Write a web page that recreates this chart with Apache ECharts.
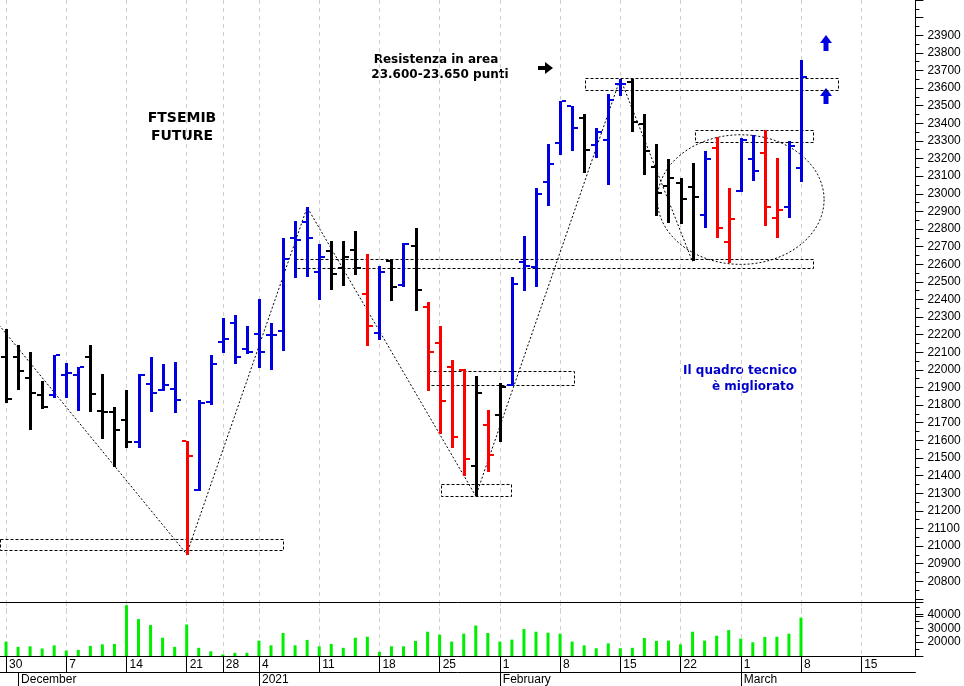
<!DOCTYPE html>
<html><head><meta charset="utf-8">
<script src="https://cdn.jsdelivr.net/npm/echarts@6/dist/echarts.min.js"></script>
<style>html,body{margin:0;padding:0;background:#fff}#c{width:964px;height:686px}</style>
</head><body><div id="c"></div>
<script>
// ---- trading days (category axis) ----
const dates = [
 '2020-11-30','2020-12-01','2020-12-02','2020-12-03','2020-12-04',
 '2020-12-07','2020-12-08','2020-12-09','2020-12-10','2020-12-11',
 '2020-12-14','2020-12-15','2020-12-16','2020-12-17','2020-12-18',
 '2020-12-21','2020-12-22','2020-12-23','2020-12-28','2020-12-29','2020-12-30',
 '2021-01-04','2021-01-05','2021-01-06','2021-01-07','2021-01-08',
 '2021-01-11','2021-01-12','2021-01-13','2021-01-14','2021-01-15',
 '2021-01-18','2021-01-19','2021-01-20','2021-01-21','2021-01-22',
 '2021-01-25','2021-01-26','2021-01-27','2021-01-28','2021-01-29',
 '2021-02-01','2021-02-02','2021-02-03','2021-02-04','2021-02-05',
 '2021-02-08','2021-02-09','2021-02-10','2021-02-11','2021-02-12',
 '2021-02-15','2021-02-16','2021-02-17','2021-02-18','2021-02-19',
 '2021-02-22','2021-02-23','2021-02-24','2021-02-25','2021-02-26',
 '2021-03-01','2021-03-02','2021-03-03','2021-03-04','2021-03-05',
 '2021-03-08','2021-03-09','2021-03-10','2021-03-11','2021-03-12',
 '2021-03-15','2021-03-16','2021-03-17','2021-03-18','2021-03-19'
];
const weekStartDates = ['2020-11-30','2020-12-07','2020-12-14','2020-12-21','2020-12-28','2021-01-04','2021-01-11','2021-01-18','2021-01-25','2021-02-01','2021-02-08','2021-02-15','2021-02-22','2021-03-01','2021-03-08','2021-03-15'];
const weekLabels = ['30','7','14','21','28','4','11','18','25','1','8','15','22','1','8','15'];
const monthStartDates = ['2020-12-01','2021-01-04','2021-02-01','2021-03-01'];
const monthLabels = ['December','2021','February','March'];

// ---- OHLC (Nov 30 .. Mar 8) ----
const open = [22075,22071,21954,21858,21858, 21969,21969,22075,21766,21762, 21714,21590,21918,21886,21892,
 21596,21320,21819,22158,22266,22121, 22201,22196,22219,22751,22840, 22557,22675,22578,22679,22429,
 22210,22619,22481,22701,22356, 22154,22019,22001,21457,21686, 21743,21914,22611,22584,23066,
 23288,23497,23432,23275,23303, 23621,23636,23397,23154,23043, 23062,23040,22877,23257,22725,
 23016,23196,23229,22862,22923, 23146];
const high = [22232,22140,22099,21936,22086, 22040,22019,22140,21979,21788, 21886,21979,22071,22034,22043,
 21599,21831,22086,22297,22312,22251, 22401,22266,22747,22846,22923, 22714,22729,22729,22789,22660,
 22590,22627,22719,22807,22386, 22247,22058,22003,21966,21771, 21923,22525,22761,23034,23284,
 23529,23501,23454,23371,23566, 23654,23652,23454,23281,23196, 23090,23173,23242,23321,23031,
 23316,23334,23362,23201,23299, 23758];
const low = [21812,21886,21658,21775,21840, 21840,21769,21757,21612,21446, 21558,21558,21757,21881,21753,
 20954,21314,21803,22099,22034,22090, 22010,21997,22108,22525,22525, 22396,22453,22473,22539,22136,
 22168,22386,22469,22336,21882, 21636,21557,21396,21284,21418, 21590,21905,22447,22473,22932,
 23225,23247,23121,23201,23047, 23558,23349,23106,22873,22831, 22831,22614,22807,22747,22608,
 23012,23071,22818,22747,22864, 23066];
const close = [21834,21992,21868,21790,22084, 21981,22016,21862,21760,21658, 21590,21969,21868,21914,21827,
 21514,21814,22034,22173,22071,22103, 22103,22200,22631,22738,22751, 22640,22547,22640,22578,22250,
 22553,22469,22715,22453,22099, 21825,21621,21492,21868,21516, 21904,22489,22590,22997,23169,
 23525,23373,23247,23349,23534, 23625,23410,23240,23004,23090, 22973,22979,23196,22803,22858,
 23308,23132,22923,22908,23269, 23664];
const barColor = ['k','k','k','k','b', 'b','b','k','k','k', 'k','b','b','b','b',
 'r','b','b','b','b','b', 'b','b','b','b','b', 'b','k','k','k','r',
 'b','k','b','k','r', 'r','r','r','k','r', 'k','b','b','b','b',
 'b','b','k','b','b', 'b','k','k','k','k', 'k','k','b','r','r',
 'b','b','r','r','b', 'b'];
const volume = [20400,16600,17000,15400,17700, 13900,14400,17300,18400,18700, 46600,36600,32300,23200,16600,
 32700,15900,13400,11100,12300,12300, 21100,17700,26600,17700,21600, 17000,18700,15900,23200,23900,
 13000,17000,17000,20900,27500, 25400,20400,26100,32000,26600, 20400,21800,29400,27500,26800,
 26100,20400,17700,15600,19100, 15600,15900,23000,20900,21100, 18400,27500,21100,24600,28700,
 22500,19900,23700,23900,26100, 37700];

// ---- annotations (x in trading-day index, y in price) ----
const boxX1 = [-0.5, 36.1, 35.0, 24.0, 48.1, 57.2];
const boxX2 = [23.0, 41.9, 47.1, 67.0, 69.1, 67.0];
const boxLow = [20975, 21286, 21914, 22581, 23590, 23293];
const boxHigh = [21040, 21353, 21992, 22631, 23658, 23362];
const zigX = [-1, 15, 25, 39, 51, 57];
const zigV = [22290, 20954, 22923, 21284, 23654, 22614];
const ellX = [61.0], ellV = [22967], ellRX = [6.92], ellRV = [368];

const colorMap = {b:'#0000e0', r:'#ff0000', k:'#000000'};
const weekSet = new Set(weekStartDates);
const monthSet = new Set(monthStartDates);

function px(api, idx, v) {
  const p0 = api.coord([0, v]);
  const bw = api.size([1, 0])[0];
  return [p0[0] + idx * bw, p0[1]];
}

const ohlcData = open.map((o, i) => [i, o, high[i], low[i], close[i]]);

function renderOHLC(params, api) {
  const i = api.value(0);
  const h = api.coord([i, api.value(2)]);
  const l = api.coord([i, api.value(3)]);
  const o = api.coord([i, api.value(1)]);
  const c = api.coord([i, api.value(4)]);
  const X = Math.round(h[0]);
  const col = colorMap[barColor[i]];
  return {type:'group', children:[
    {type:'rect', shape:{x:X-1, y:Math.round(h[1]), width:3, height:Math.max(2, Math.round(l[1]-h[1]))}, style:{fill:col}},
    {type:'rect', shape:{x:X-5, y:Math.round(o[1])-1, width:4, height:2}, style:{fill:col}},
    {type:'rect', shape:{x:X+2, y:Math.round(c[1])-1, width:4, height:2}, style:{fill:col}}
  ]};
}

function renderBox(params, api) {
  const k = params.dataIndex;
  const a = px(api, boxX1[k], boxHigh[k]);
  const b = px(api, boxX2[k], boxLow[k]);
  return {type:'rect', shape:{x:Math.round(a[0])+0.5, y:Math.round(a[1])+0.5, width:Math.round(b[0]-a[0]), height:Math.round(b[1]-a[1])},
    style:{fill:null, stroke:'#000', lineWidth:1, lineDash:[3,2]}};
}
function renderZig(params, api) {
  const pts = zigX.map((x, k) => px(api, x, zigV[k]));
  return {type:'polyline', shape:{points:pts}, style:{fill:null, stroke:'#000', lineWidth:1, lineDash:[2,2]}};
}
function renderEll(params, api) {
  const k = params.dataIndex;
  const c = px(api, ellX[k], ellV[k]);
  const e = px(api, ellX[k] + ellRX[k], ellV[k] + ellRV[k]);
  const rx = e[0] - c[0], ry = c[1] - e[1];
  const pts = [];
  for (let t = 0; t <= 96; t++) { const a = t / 96 * Math.PI * 2; pts.push([c[0] + rx * Math.cos(a), c[1] + ry * Math.sin(a)]); }
  return {type:'polyline', shape:{points:pts}, style:{fill:null, stroke:'#000', lineWidth:1, lineDash:[2,2]}};
}

const splitStyle = {show:true, alignWithLabel:true, interval:(i, v) => weekSet.has(v), lineStyle:{color:'#cfcfcf', width:1, type:[4,4]}};
const font = 'Liberation Sans';

const chart = echarts.init(document.getElementById('c'), null, {renderer:'canvas'});
chart.setOption({
  animation:false,
  backgroundColor:'#ffffff',
  textStyle:{fontFamily:font},
  grid:[
    {left:0, right:48.6, top:-13.5, height:630},
    {left:0, right:48.6, top:602, height:54.5}
  ],
  xAxis:[
    {type:'category', gridIndex:0, data:dates, boundaryGap:true, axisLine:{show:false}, axisTick:{show:false}, axisLabel:{show:false}, splitLine:splitStyle},
    {type:'category', gridIndex:1, data:dates, boundaryGap:true, position:'bottom',
      axisLine:{show:true, lineStyle:{color:'#000', width:1}},
      axisTick:{show:true, alignWithLabel:true, interval:(i, v) => weekSet.has(v), length:16, lineStyle:{color:'#000'}},
      axisLabel:{show:true, interval:(i, v) => weekSet.has(v), formatter:(v) => weekLabels[weekStartDates.indexOf(v)] || '', align:'left', padding:[0,0,0,3], margin:3, fontSize:12, color:'#000', fontFamily:font},
      splitLine:splitStyle},
    {type:'category', gridIndex:1, data:dates, boundaryGap:true, position:'bottom', offset:16,
      axisLine:{show:true, lineStyle:{color:'#000', width:1}},
      axisTick:{show:true, alignWithLabel:true, interval:(i, v) => monthSet.has(v), length:14, lineStyle:{color:'#000'}},
      axisLabel:{show:true, interval:(i, v) => monthSet.has(v), formatter:(v) => monthLabels[monthStartDates.indexOf(v)] || '', align:'left', padding:[0,0,0,3], margin:2, fontSize:12, color:'#000', fontFamily:font},
      splitLine:{show:false}},
    {type:'category', gridIndex:1, data:dates, boundaryGap:true, position:'top',
      axisLine:{show:true, lineStyle:{color:'#000', width:1}}, axisTick:{show:false}, axisLabel:{show:false}, splitLine:{show:false}}
  ],
  yAxis:[
    {type:'value', gridIndex:0, position:'right', min:20600, max:24100, interval:100, scale:true,
      axisLine:{show:true, lineStyle:{color:'#000'}},
      axisTick:{show:true, length:8, lineStyle:{color:'#000'}},
      minorTick:{show:true, splitNumber:2, length:4, lineStyle:{color:'#000'}},
      axisLabel:{show:true, margin:12, fontSize:12, color:'#000', fontFamily:font,
        formatter:(v) => (v >= 20800 && v <= 23900) ? String(v) : ''},
      splitLine:{show:false}},
    {type:'value', gridIndex:1, position:'right', min:10000, max:48929, interval:10000,
      axisLine:{show:true, lineStyle:{color:'#000'}},
      axisTick:{show:true, length:8, lineStyle:{color:'#000'}},
      minorTick:{show:true, splitNumber:2, length:4, lineStyle:{color:'#000'}},
      axisLabel:{show:true, margin:12, fontSize:12, color:'#000', fontFamily:font,
        formatter:(v) => (v === 20000 || v === 30000 || v === 40000) ? String(v) : ''},
      splitLine:{show:false}}
  ],
  series:[
    {type:'custom', name:'boxes', xAxisIndex:0, yAxisIndex:0, renderItem:renderBox, clip:true, silent:true, z:1,
      data:boxX1.map((x, k) => [0, boxLow[k]])},
    {type:'custom', name:'trend', xAxisIndex:0, yAxisIndex:0, renderItem:renderZig, clip:true, silent:true, z:1,
      data:[[0, zigV[0]]]},
    {type:'custom', name:'ellipse', xAxisIndex:0, yAxisIndex:0, renderItem:renderEll, clip:true, silent:true, z:1,
      data:ellX.map((x, k) => [0, ellV[k]])},
    {type:'custom', name:'FTSEMIB', xAxisIndex:0, yAxisIndex:0, renderItem:renderOHLC, z:3,
      encode:{x:0, y:[1,2,3,4]}, data:ohlcData},
    {type:'bar', name:'Volume', xAxisIndex:1, yAxisIndex:1, data:volume, barWidth:3, itemStyle:{color:'#00ee00'}}
  ],
  graphic:[
    {type:'text', x:182, y:118, style:{text:'FTSEMIB', font:'bold 14px "DejaVu Sans"', fill:'#000', align:'center', verticalAlign:'middle'}},
    {type:'text', x:182, y:136, style:{text:'FUTURE', font:'bold 14px "DejaVu Sans"', fill:'#000', align:'center', verticalAlign:'middle'}},
    {type:'text', x:436, y:60, style:{text:'Resistenza in area', font:'bold 12px "DejaVu Sans"', fill:'#000', align:'center', verticalAlign:'middle'}},
    {type:'text', x:440, y:75, style:{text:'23.600-23.650 punti', font:'bold 12px "DejaVu Sans"', fill:'#000', align:'center', verticalAlign:'middle'}},
    {type:'text', x:797, y:371, style:{text:'Il quadro tecnico', font:'bold 12px "DejaVu Sans"', fill:'#0000cc', align:'right', verticalAlign:'middle'}},
    {type:'text', x:794, y:387, style:{text:'è migliorato', font:'bold 12px "DejaVu Sans"', fill:'#0000cc', align:'right', verticalAlign:'middle'}},
    {type:'rect', shape:{x:538, y:66, width:8, height:4}, style:{fill:'#000'}},
    {type:'polygon', shape:{points:[[545,62],[553,68],[545,74]]}, style:{fill:'#000'}},
    {type:'polygon', shape:{points:[[826,35],[820,43],[832,43]]}, style:{fill:'#0000e0'}},
    {type:'rect', shape:{x:823.5, y:43, width:5, height:8}, style:{fill:'#0000e0'}},
    {type:'polygon', shape:{points:[[826,88],[820,96],[832,96]]}, style:{fill:'#0000e0'}},
    {type:'rect', shape:{x:823.5, y:96, width:5, height:8}, style:{fill:'#0000e0'}}
  ]
});
</script></body></html>
